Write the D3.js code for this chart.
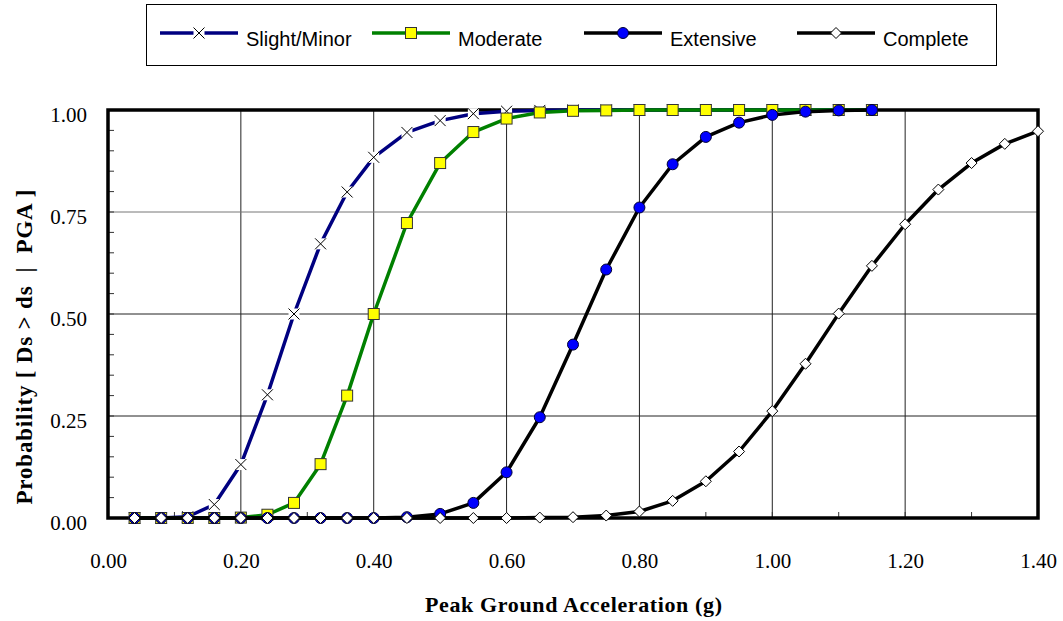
<!DOCTYPE html>
<html>
<head>
<script type="text/javascript" src="https://cdn.jsdelivr.net/npm/d3@7"></script>
<style>
  body { margin: 0; background: #fff; }
</style>
</head>
<body>
<div id="chart"></div>
<script type="text/javascript">

// peak ground acceleration values (g)
var pga = [0.04, 0.08, 0.12, 0.16, 0.20, 0.24, 0.28, 0.32, 0.36, 0.40,
           0.45, 0.50, 0.55, 0.60, 0.65, 0.70, 0.75, 0.80, 0.85, 0.90,
           0.95, 1.00, 1.05, 1.10, 1.15, 1.20, 1.25, 1.30, 1.35, 1.40];

var slight = [0, 0, 0.003, 0.033, 0.131, 0.302, 0.500, 0.672, 0.799, 0.884,
              0.945, 0.974, 0.991, 0.997, 0.999, 1, 1, 1, 1, 1, 1, 1, 1, 1, 1];
var moderate = [0, 0, 0, 0, 0.001, 0.008, 0.037, 0.132, 0.300, 0.500,
                0.723, 0.870, 0.946, 0.979, 0.994, 0.998, 0.999, 1, 1, 1, 1, 1, 1, 1, 1];
var extensive = [0, 0, 0, 0, 0, 0, 0, 0, 0, 0,
                 0.002, 0.010, 0.037, 0.112, 0.247, 0.425, 0.609, 0.761, 0.867, 0.934,
                 0.969, 0.988, 0.996, 0.999, 1.000];
var complete = [0, 0, 0, 0, 0, 0, 0, 0, 0, 0,
                0, 0, 0, 0, 0.001, 0.002, 0.006, 0.016, 0.042, 0.090,
                0.163, 0.262, 0.378, 0.501, 0.618, 0.720, 0.805, 0.870, 0.917, 0.948];

var xTicks = [0, 0.2, 0.4, 0.6, 0.8, 1.0, 1.2, 1.4];
var yTicks = [0, 0.25, 0.5, 0.75, 1.0];

var series = [
  {name: "Slight/Minor", values: slight, color: "#000080", marker: "x"},
  {name: "Moderate", values: moderate, color: "#008000", marker: "square"},
  {name: "Extensive", values: extensive, color: "#000000", marker: "circle"},
  {name: "Complete", values: complete, color: "#000000", marker: "diamond"}
];

var W = 1063, H = 621;
var pLeft = 108, pRight = 1038, pTop = 110, pBottom = 518;
var serif = "'Liberation Serif', 'Times New Roman', serif";

var svg = d3.select("#chart").append("svg")
    .attr("width", W)
    .attr("height", H);

var x = d3.scaleLinear().domain([0, 1.4]).range([pLeft, pRight]);
var y = d3.scaleLinear().domain([0, 1]).range([pBottom, pTop]);

// gridlines
svg.append("g").selectAll("line")
    .data(xTicks.slice(1, -1))
    .enter().append("line")
    .attr("x1", function(d){ return x(d); })
    .attr("x2", function(d){ return x(d); })
    .attr("y1", pTop).attr("y2", pBottom)
    .style("stroke", "#222").style("stroke-width", 1);

svg.append("g").selectAll("line")
    .data(yTicks.slice(1, -1))
    .enter().append("line")
    .attr("x1", pLeft).attr("x2", pRight)
    .attr("y1", function(d){ return y(d); })
    .attr("y2", function(d){ return y(d); })
    .style("stroke", function(d){ return d == 0.75 ? "#777" : "#222"; })
    .style("stroke-width", 1);

// minor ticks on left and bottom (inside)
var yMinor = d3.range(1, 20).map(function(i){ return i * 0.05; });
svg.append("g").selectAll("line")
    .data(yMinor)
    .enter().append("line")
    .attr("x1", pLeft).attr("x2", pLeft + 6)
    .attr("y1", function(d){ return y(d); })
    .attr("y2", function(d){ return y(d); })
    .style("stroke", "#333").style("stroke-width", 1);

var xMinor = d3.range(1, 14).map(function(i){ return i * 0.1; });
svg.append("g").selectAll("line")
    .data(xMinor)
    .enter().append("line")
    .attr("x1", function(d){ return x(d); })
    .attr("x2", function(d){ return x(d); })
    .attr("y1", pBottom).attr("y2", pBottom - 6)
    .style("stroke", "#333").style("stroke-width", 1);

// axes labels
var xAxis = d3.axisBottom(x).tickValues(xTicks).tickSize(0).tickPadding(35)
    .tickFormat(d3.format(".2f"));
var gx = svg.append("g").attr("transform", "translate(0," + pBottom + ")").call(xAxis);
gx.select(".domain").remove();
gx.selectAll("text")
    .style("font-family", serif)
    .style("font-size", "21px")
    .style("fill", "#000");

var yAxis = d3.axisLeft(y).tickValues(yTicks).tickSize(0).tickPadding(21)
    .tickFormat(d3.format(".2f"));
var gy = svg.append("g").attr("transform", "translate(" + pLeft + ",0)").call(yAxis);
gy.select(".domain").remove();
gy.selectAll("text")
    .attr("dy", "0.55em")
    .style("font-family", serif)
    .style("font-size", "21px")
    .style("fill", "#000");

// frame
svg.append("rect")
    .attr("x", pLeft).attr("y", pTop)
    .attr("width", pRight - pLeft).attr("height", pBottom - pTop)
    .style("fill", "none").style("stroke", "#000").style("stroke-width", 3.5);

// markers
function drawMarker(g, type, cx, cy) {
  if (type == "x") {
    g.append("rect").attr("x", cx - 5.5).attr("y", cy - 5.5).attr("width", 11).attr("height", 11)
      .style("fill", "#fff");
    g.append("path")
      .attr("d", "M" + (cx - 5.5) + "," + (cy - 5.5) + "L" + (cx + 5.5) + "," + (cy + 5.5) +
                 "M" + (cx - 5.5) + "," + (cy + 5.5) + "L" + (cx + 5.5) + "," + (cy - 5.5))
      .style("stroke", "#000").style("stroke-width", 1).style("fill", "none");
  } else if (type == "square") {
    g.append("rect").attr("x", cx - 5.5).attr("y", cy - 5.5).attr("width", 11).attr("height", 11)
      .style("fill", "#ffff00").style("stroke", "#333").style("stroke-width", 1);
  } else if (type == "circle") {
    g.append("circle").attr("cx", cx).attr("cy", cy).attr("r", 5.5)
      .style("fill", "#0000ff").style("stroke", "#000033").style("stroke-width", 1);
  } else {
    g.append("path")
      .attr("d", "M" + cx + "," + (cy - 5.5) + "L" + (cx + 5.5) + "," + cy +
                 "L" + cx + "," + (cy + 5.5) + "L" + (cx - 5.5) + "," + cy + "Z")
      .style("fill", "#fff").style("stroke", "#000").style("stroke-width", 1);
  }
}

var line = d3.line()
    .x(function(d){ return x(d[0]); })
    .y(function(d){ return y(d[1]); });

series.forEach(function(s) {
  var pts = s.values.map(function(v, i){ return [pga[i], v]; });
  var g = svg.append("g");
  g.append("path")
    .datum(pts)
    .attr("d", line)
    .style("fill", "none")
    .style("stroke", s.color)
    .style("stroke-width", 3.5)
    .style("stroke-linejoin", "round");
  pts.forEach(function(p){ drawMarker(g, s.marker, x(p[0]), y(p[1])); });
});

// legend
svg.append("rect")
    .attr("x", 146.5).attr("y", 4.5).attr("width", 850).attr("height", 61)
    .style("fill", "#fff").style("stroke", "#000").style("stroke-width", 1);

var legendX = [160, 372, 584, 797];
series.forEach(function(s, i) {
  var g = svg.append("g");
  var lx = legendX[i], ly = 33;
  g.append("line")
    .attr("x1", lx).attr("x2", lx + 78)
    .attr("y1", ly).attr("y2", ly)
    .style("stroke", s.color).style("stroke-width", 3.5);
  drawMarker(g, s.marker, lx + 39, ly);
  g.append("text")
    .attr("x", lx + 86).attr("y", 46)
    .text(s.name)
    .style("font-family", "'Liberation Sans', Arial, sans-serif")
    .style("font-size", "20px");
});

// axis titles
svg.append("text")
    .attr("x", (425 + 722) / 2).attr("y", 612)
    .attr("text-anchor", "middle")
    .attr("textLength", 297)
    .attr("lengthAdjust", "spacing")
    .text("Peak Ground Acceleration (g)")
    .style("font-family", serif)
    .style("font-weight", "bold")
    .style("font-size", "22px");

svg.append("text")
    .attr("transform", "translate(32,347) rotate(-90)")
    .attr("text-anchor", "middle")
    .attr("textLength", 315)
    .attr("lengthAdjust", "spacing")
    .text("Probability [ Ds > ds  |  PGA ]")
    .style("font-family", serif)
    .style("font-weight", "bold")
    .style("font-size", "23px")
    .style("white-space", "pre");

</script>
</body>
</html>
